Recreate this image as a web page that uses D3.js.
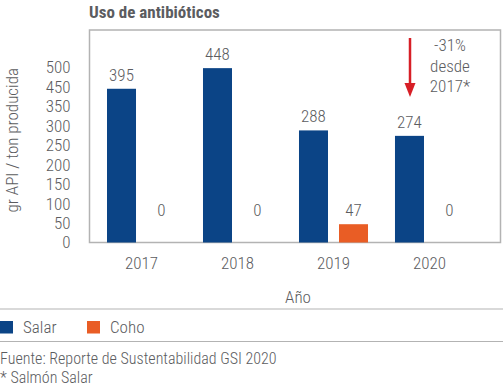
<!DOCTYPE html>
<html>
<head>
<meta charset="utf-8">
<script src="https://cdn.jsdelivr.net/npm/d3@7"></script>
<style>
  body { margin: 0; background: #fff; }
  text { font-family: "Roboto Condensed", "Liberation Sans Narrow", "DejaVu Sans Condensed", sans-serif; fill: #5b5c60; font-weight: 300; }
</style>
</head>
<body>
<div id="chart-area"></div>
<script>
// datos
var years = ["2017", "2018", "2019", "2020"];
var series = ["Salar", "Coho"];
var salar = [395, 448, 288, 274];
var coho = [0, 0, 47, 0];
var yTicks = [0, 50, 100, 150, 200, 250, 300, 350, 400, 450, 500];
var yTickLabels = ["0", "50", "100", "150", "200", "250", "300", "350", "450", "500"];
var colors = ["#0b4486", "#e95d25"];

const W = 503, H = 386;

var frame = { left: 89.5, top: 30, right: 500.5, bottom: 242.5 };

var svg = d3.select("#chart-area")
	.append("svg")
		.attr("width", W)
		.attr("height", H);

var x0 = d3.scaleBand()
	.domain(years)
	.range([107, 464])
	.paddingInner(0.281)
	.paddingOuter(0);

var x1 = d3.scaleBand()
	.domain(series)
	.range([0, x0.bandwidth()])
	.paddingInner(0.275);

var y = d3.scaleLinear()
	.domain([0, 546])
	.range([frame.bottom, frame.top]);

// titulo
svg.append("text")
	.attr("x", 89)
	.attr("y", 18)
	.attr("font-size", "17px")
	.style("font-weight", "bold")
	.text("Uso de antibióticos");

// marco
svg.append("rect")
	.attr("x", frame.left)
	.attr("y", frame.top)
	.attr("width", frame.right - frame.left)
	.attr("height", frame.bottom - frame.top)
	.attr("fill", "none")
	.attr("stroke", "#b3b3b3")
	.attr("stroke-width", 1.5);

// eje y (las etiquetas tal cual aparecen, sin el 400)
var yTickVals = yTicks.slice(0, yTickLabels.length);
var yAxis = svg.append("g")
	.attr("transform", "translate(70.5,0)")
	.call(d3.axisLeft(y).tickValues(yTickVals).tickSize(0).tickPadding(0)
		.tickFormat(function(d, i) { return yTickLabels[i]; }));
yAxis.select(".domain").remove();
yAxis.selectAll("text").attr("font-size", "17px").attr("fill", "#66676b");

svg.append("text")
	.attr("transform", "translate(18," + ((frame.top + frame.bottom) / 2 + 4) + ") rotate(-90)")
	.attr("text-anchor", "middle")
	.attr("font-size", "17px")
	.text("gr API / ton producida");

// eje x
var xAxis = svg.append("g")
	.attr("transform", "translate(0," + frame.bottom + ")")
	.call(d3.axisBottom(x0).tickSize(0).tickPadding(14));
xAxis.select(".domain").remove();
xAxis.selectAll("text").attr("font-size", "17px").attr("fill", "#5b5c60");

svg.append("text")
	.attr("x", 298)
	.attr("y", 303)
	.attr("text-anchor", "middle")
	.attr("font-size", "17px")
	.text("Año");

// barras
var rows = years.map(function(yr, i) {
	return { year: yr, values: [ { key: "Salar", v: salar[i] }, { key: "Coho", v: coho[i] } ] };
});

var groups = svg.selectAll(".grp")
	.data(rows)
	.enter()
	.append("g")
		.attr("class", "grp")
		.attr("transform", function(d) { return "translate(" + x0(d.year) + ",0)"; });

groups.selectAll("rect")
	.data(function(d) { return d.values; })
	.enter()
	.append("rect")
		.attr("x", function(d) { return x1(d.key); })
		.attr("y", function(d) { return y(d.v); })
		.attr("width", x1.bandwidth())
		.attr("height", function(d) { return y(0) - y(d.v); })
		.attr("fill", function(d, i) { return colors[i]; });

groups.selectAll(".lbl")
	.data(function(d) { return d.values; })
	.enter()
	.append("text")
		.attr("class", "lbl")
		.attr("x", function(d) { return x1(d.key) + x1.bandwidth() / 2; })
		.attr("y", function(d) { return Math.min(y(d.v), y(47)) - 8; })
		.attr("text-anchor", "middle")
		.attr("font-size", "17px")
		.text(function(d) { return d.v; });

// flecha y nota
svg.append("line")
	.attr("x1", 410).attr("x2", 410)
	.attr("y1", 38).attr("y2", 86)
	.attr("stroke", "#d71f26")
	.attr("stroke-width", 2.5);
svg.append("path")
	.attr("d", "M404.5,83 L415.5,83 L410,97 Z")
	.attr("fill", "#d71f26");

var note = ["-31%", "desde", "2017*"];
svg.selectAll(".note")
	.data(note)
	.enter()
	.append("text")
		.attr("class", "note")
		.attr("x", 450)
		.attr("y", function(d, i) { return 51 + i * 20.5; })
		.attr("text-anchor", "middle")
		.attr("font-size", "17px")
		.text(function(d) { return d; });

// leyenda
svg.append("line").attr("x1", 0).attr("x2", W).attr("y1", 309).attr("y2", 309)
	.attr("stroke", "#b3b3b3").attr("stroke-width", 1.2);
svg.append("line").attr("x1", 0).attr("x2", W).attr("y1", 341.5).attr("y2", 341.5)
	.attr("stroke", "#b3b3b3").attr("stroke-width", 1.2);

var legX = [0, 87];
var leg = svg.selectAll(".leg")
	.data(series)
	.enter()
	.append("g")
		.attr("class", "leg")
		.attr("transform", function(d, i) { return "translate(" + legX[i] + ",321)"; });
leg.append("rect")
	.attr("width", 13).attr("height", 12.5)
	.attr("fill", function(d, i) { return colors[i]; });
leg.append("text")
	.attr("x", 23)
	.attr("y", 12)
	.attr("font-size", "17px")
	.text(function(d) { return d; });

// fuente
svg.append("text")
	.attr("x", 0).attr("y", 364)
	.attr("font-size", "16px")
	.text("Fuente: Reporte de Sustentabilidad GSI 2020");
svg.append("text")
	.attr("x", 0).attr("y", 382.5)
	.attr("font-size", "16px")
	.text("* Salmón Salar");
</script>
</body>
</html>
